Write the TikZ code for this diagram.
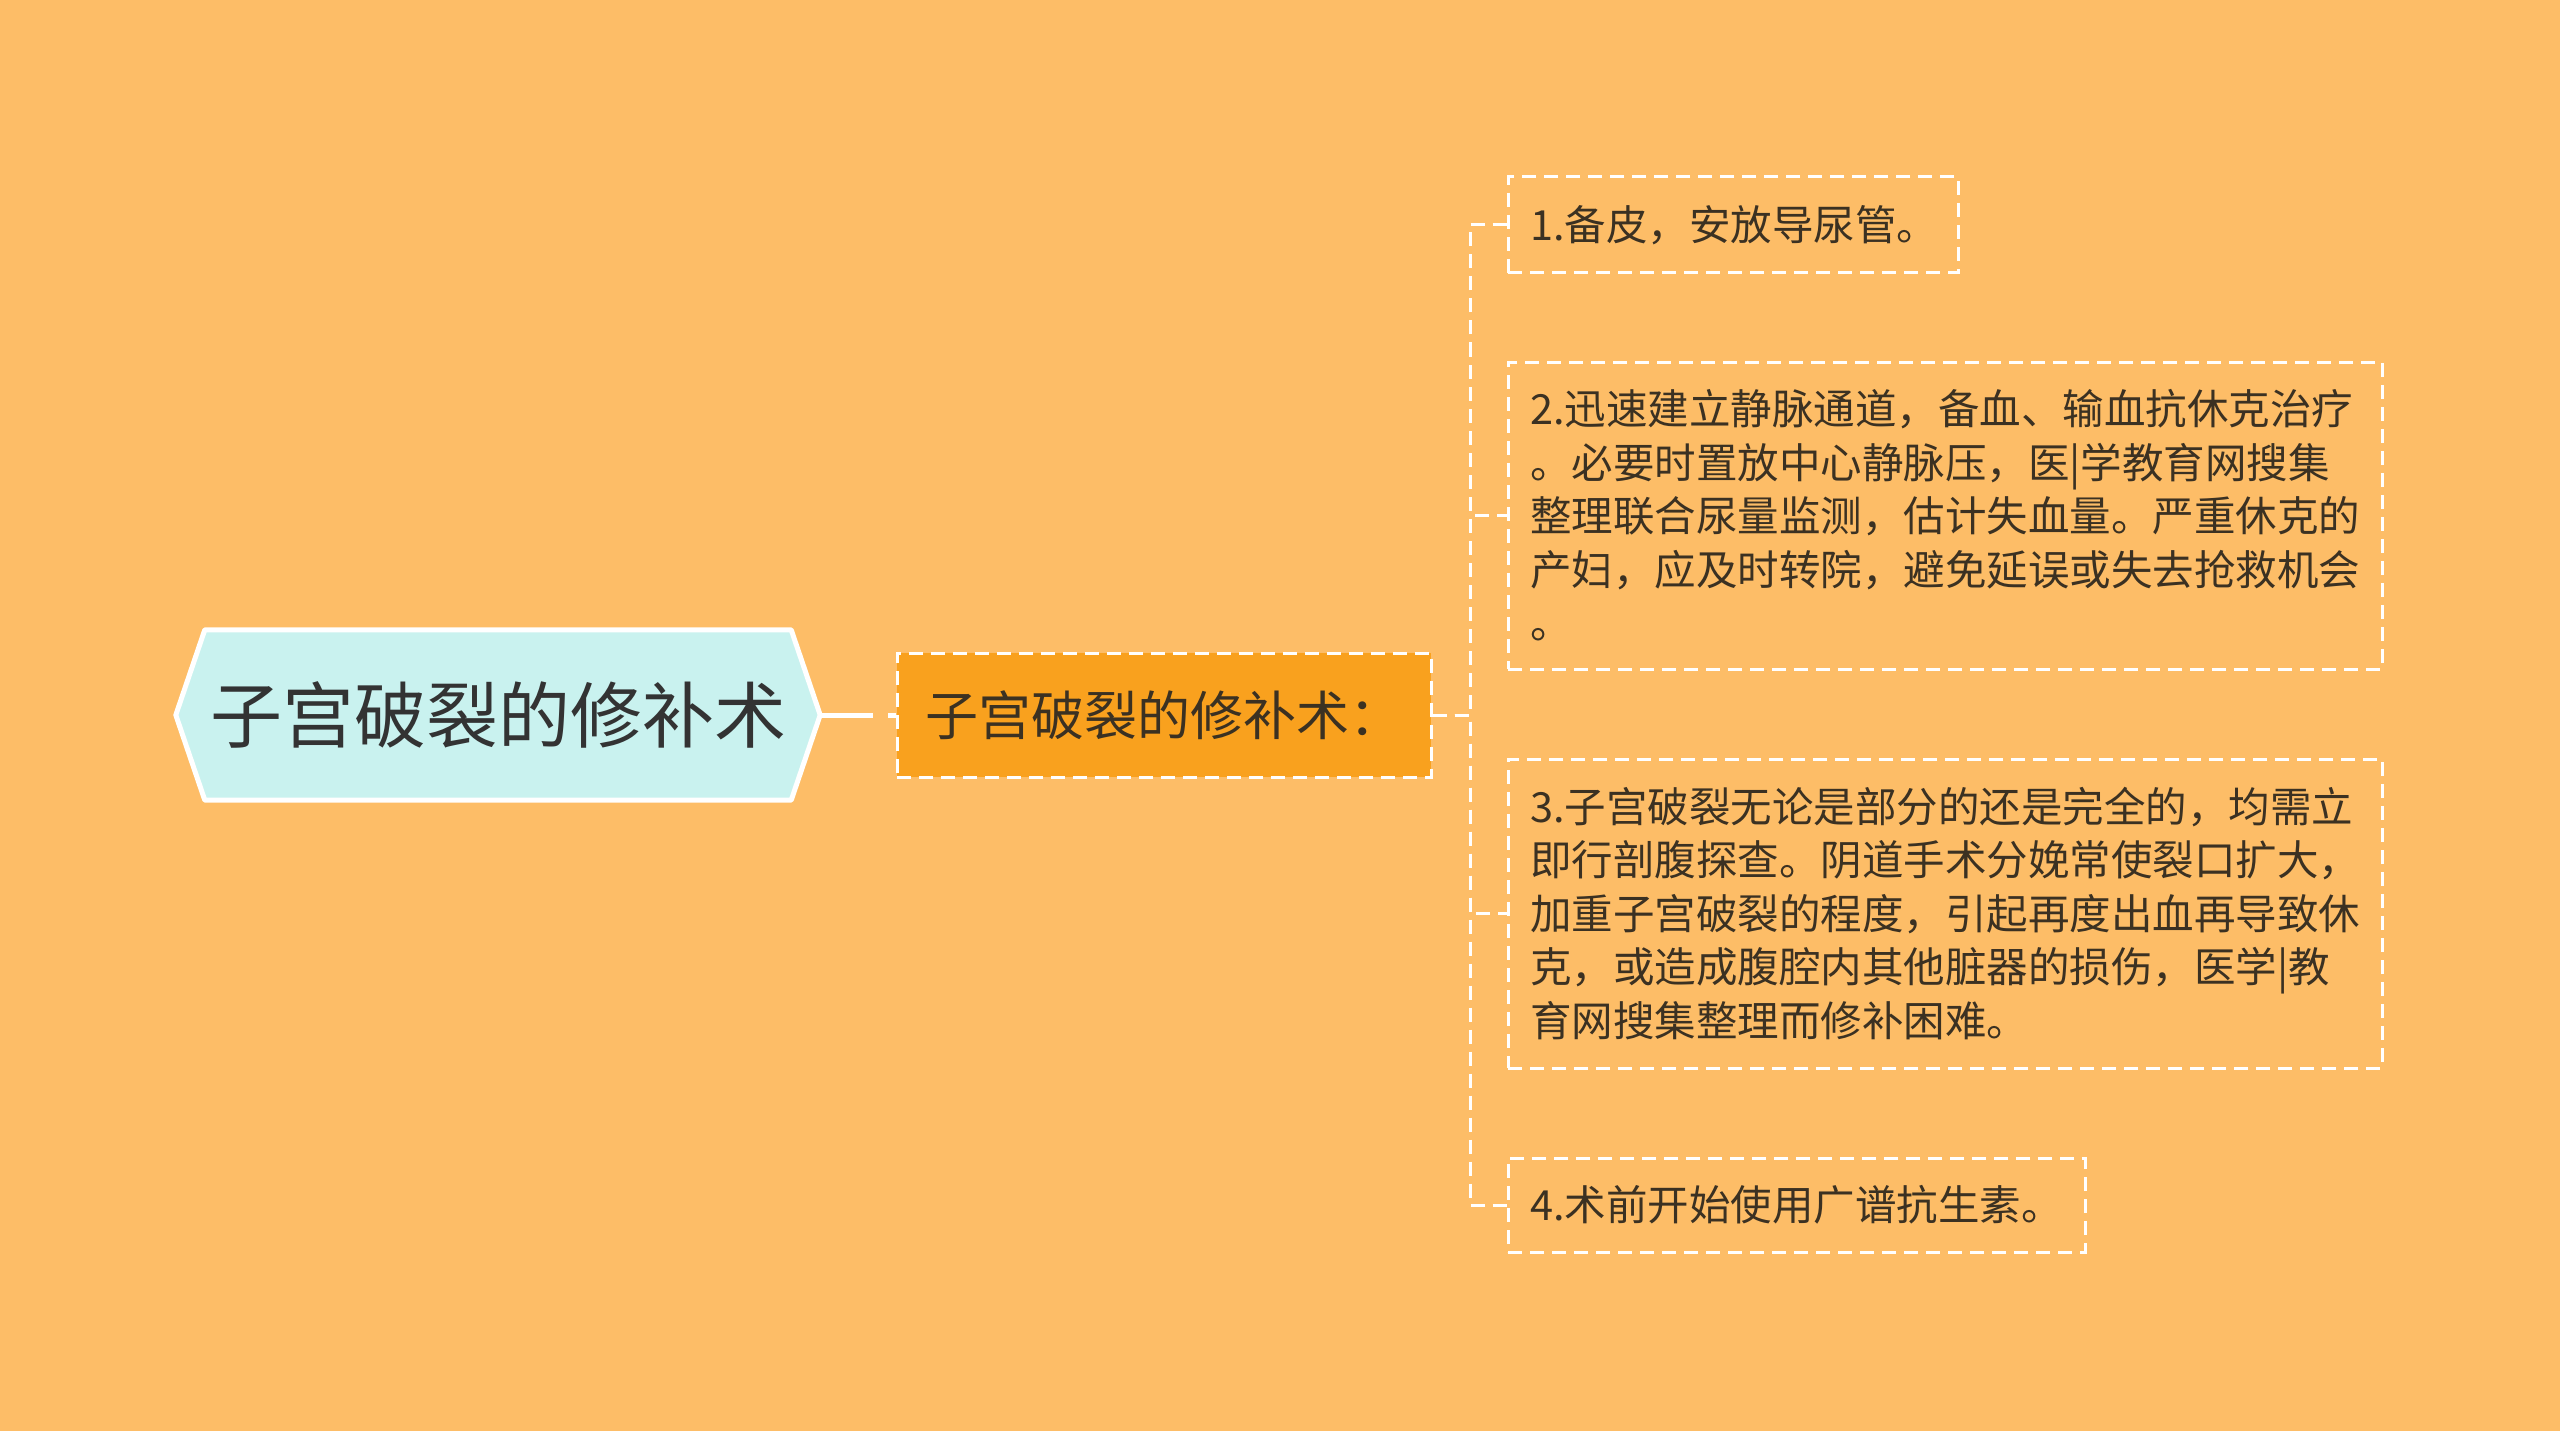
\documentclass[tikz,border=0pt]{standalone}
\usepackage{fontspec}
\setmainfont{Noto Sans CJK SC}
\usepackage{tikz}

\definecolor{bgorange}{HTML}{FDBD67}
\definecolor{midorange}{HTML}{F9A11E}
\definecolor{rootcyan}{HTML}{C9F2EF}
\definecolor{roottext}{HTML}{333333}
\definecolor{leaftext}{HTML}{3B3122}

\pgfdeclarelayer{back}
\pgfsetlayers{back,main}

\begin{document}
\begin{tikzpicture}[x=1pt, y=-1pt,
	leafbox/.style={draw=white, line width=3pt, dash pattern=on 14pt off 8pt, inner xsep=22pt, inner ysep=0pt, align=left, text=leaftext, font=\fontsize{41.5}{53.5}\selectfont},
	link/.style={white, line width=3pt, dash pattern=on 14pt off 8pt}]
	\useasboundingbox (0,0) rectangle (2560,1431);

	% root
	\node[minimum width=644pt, minimum height=170pt, inner sep=0pt, text=roottext, font=\fontsize{72}{80}\selectfont] (root) at (498,715) {子宫破裂的修补术};

	% background and hexagon
	\begin{pgfonlayer}{back}
		\fill[bgorange] (0,0) rectangle (2560,1431);
		\draw[white, line width=5pt, fill=rootcyan, line join=round] (root.west) -- ([xshift=29pt]root.north west) -- ([xshift=-29pt]root.north east) -- (root.east) -- ([xshift=-29pt]root.south east) -- ([xshift=29pt]root.south west) -- cycle;
	\end{pgfonlayer}

	% middle box
	\node[draw=white, line width=3pt, dash pattern=on 14pt off 8pt, fill=midorange, minimum width=534pt, minimum height=124pt, inner sep=0pt, text=leaftext, font=\fontsize{53}{60}\selectfont] (mid) at (1164,715) {子宫破裂的修补术：};

	% leaves
	\node[leafbox, text width=406pt, minimum height=96pt] (l1) at (1733,225) {1.备皮，安放导尿管。};
	\node[leafbox, text width=830pt, minimum height=307pt] (l2) at (1945,515.5) {2.迅速建立静脉通道，备血、输血抗休克治疗\\。必要时置放中心静脉压，医|学教育网搜集\\整理联合尿量监测，估计失血量。严重休克的\\产妇，应及时转院，避免延误或失去抢救机会\\。};
	\node[leafbox, text width=830pt, minimum height=309pt] (l3) at (1945,913.5) {3.子宫破裂无论是部分的还是完全的，均需立\\即行剖腹探查。阴道手术分娩常使裂口扩大，\\加重子宫破裂的程度，引起再度出血再导致休\\克，或造成腹腔内其他脏器的损伤，医学|教\\育网搜集整理而修补困难。};
	\node[leafbox, text width=533pt, minimum height=94pt] (l4) at (1796.5,1205) {4.术前开始使用广谱抗生素。};

	% connectors
	\coordinate (fork) at (1470,715);
	\draw[white, line width=5pt, dash pattern=on 53pt off 15pt] (root.east) -- (mid.west);
	\foreach \leaf in {l1,l2,l3,l4}
		\draw[link] (mid.east) -- (fork) |- (\leaf.west);

\end{tikzpicture}
\end{document}
